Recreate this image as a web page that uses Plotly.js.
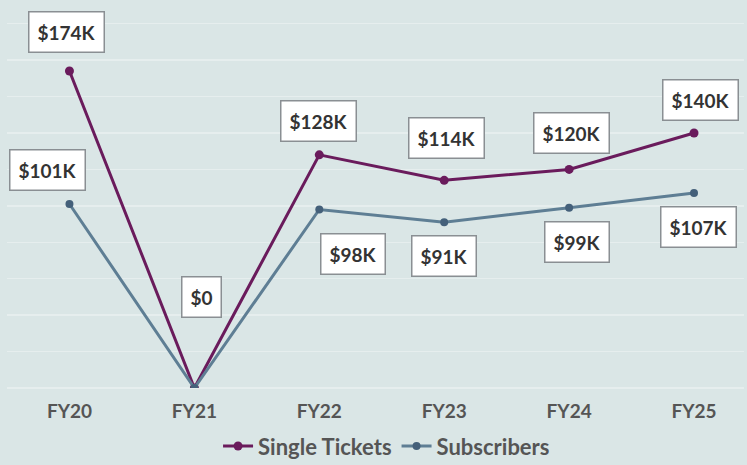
<!DOCTYPE html>
<html>
<head>
<meta charset="utf-8">
<script src="https://cdn.plot.ly/plotly-3.0.1.min.js"></script>
<style>html,body{margin:0;padding:0;background:#dae6e6;}#chart{width:747px;height:465px;}</style>
</head>
<body>
<div id="chart"></div>
<script>
const categories = ["FY20", "FY21", "FY22", "FY23", "FY24", "FY25"];
const singleTickets = [174, 0, 128, 114, 120, 140];
const subscribers = [101, 0, 98, 91, 99, 107];
const seriesNames = ["Single Tickets", "Subscribers"];

function fmt(v) { return v === 0 ? "$0" : "$" + v + "K"; }

// label offsets (pixels) relative to point
const singleOffsets = [[-3, -39], [7, -91], [-1, -34], [2, -42], [2, -36], [6, -33]];
const subOffsets = [[-22, -34], null, [34, 45], [0, 34], [8, 34], [4, 34]];

const purple = "#6a1b5c";
const steel = "#5e7e94";

const traces = [
  {x: categories, y: singleTickets, name: seriesNames[0], type: "scatter", mode: "lines+markers",
   line: {color: purple, width: 3}, marker: {color: purple, size: 9}},
  {x: categories, y: subscribers, name: seriesNames[1], type: "scatter", mode: "lines+markers",
   line: {color: steel, width: 3}, marker: {color: "#44607a", size: 8}}
];

const annFont = {family: "Lato, 'Open Sans', sans-serif", size: 19, color: "#333", weight: "bold"};
const annotations = [];
function addAnn(vals, offs) {
  vals.forEach((v, i) => {
    if (!offs[i]) return;
    annotations.push({
      x: categories[i], y: v, xref: "x", yref: "y", text: fmt(v), showarrow: true,
      arrowcolor: "rgba(0,0,0,0)", ax: offs[i][0], ay: offs[i][1],
      font: annFont, bgcolor: "#ffffff", bordercolor: "#8a8f93", borderwidth: 1.5, borderpad: 8
    });
  });
}
addAnn(singleTickets, singleOffsets);
addAnn(subscribers, subOffsets);

const layout = {
  width: 747, height: 465,
  paper_bgcolor: "#dae6e6", plot_bgcolor: "#dae6e6",
  margin: {l: 7, r: 3, t: 0, b: 77, autoexpand: false},
  showlegend: true,
  legend: {orientation: "h", x: 0.515, xanchor: "center", y: -0.15, yanchor: "middle",
    font: {family: "Lato, 'Open Sans', sans-serif", size: 22, color: "#555", weight: "bold"},
    bgcolor: "rgba(0,0,0,0)", itemwidth: 30, tracegroupgap: 0},
  xaxis: {type: "category", range: [-0.5, 5.4], showgrid: false, zeroline: false, showline: false,
    ticks: "outside", ticklen: 6, tickcolor: "rgba(0,0,0,0)", automargin: false,
    tickfont: {family: "Lato, 'Open Sans', sans-serif", size: 19, color: "#555", weight: "bold"}},
  yaxis: {range: [0, 213], dtick: 20, showgrid: true, gridcolor: "#e6eeee", gridwidth: 1.5,
    zeroline: true, zerolinecolor: "#e6eeee", zerolinewidth: 1.5, showticklabels: false, fixedrange: true},
  annotations: annotations
};

Plotly.newPlot("chart", traces, layout, {displayModeBar: false, staticPlot: true});
</script>
</body>
</html>
